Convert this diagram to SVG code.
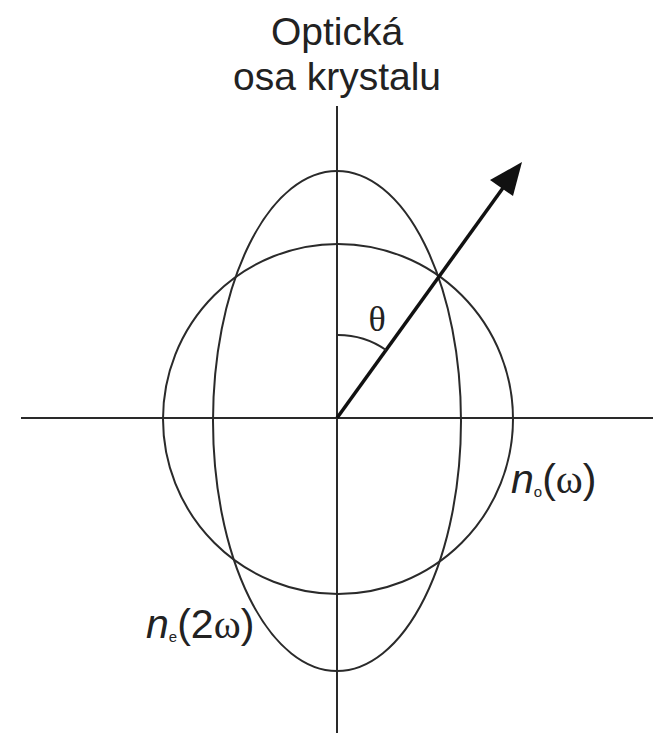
<svg xmlns="http://www.w3.org/2000/svg" width="653" height="733" viewBox="0 0 653 733">
<style>
.ln{fill:none;stroke:#2a2a2a;stroke-width:2}
.sans{font-family:"Liberation Sans",Arial,sans-serif;fill:#222}
.ser{font-family:"Liberation Serif","Times New Roman",serif;fill:#222}
</style>
<rect width="653" height="733" fill="#fff"/>
<g id="title">
<text class="sans" x="337" y="45" font-size="39" text-anchor="middle">Optická</text>
<text class="sans" x="337" y="90" font-size="39" text-anchor="middle">osa krystalu</text>
</g>
<g id="axes">
<line class="ln" x1="337" y1="106" x2="337" y2="733"/>
<line class="ln" x1="21" y1="418" x2="653" y2="418"/>
</g>
<g id="circle-no">
<circle class="ln" cx="338" cy="419" r="175"/>
</g>
<g id="ellipse-ne">
<ellipse class="ln" cx="337" cy="421" rx="124" ry="250"/>
</g>
<g id="connectors">
<line x1="337" y1="418" x2="508" y2="181" stroke="#111" stroke-width="3.5"/>
<path d="M522,162 L513,196 L490,180 z" fill="#111"/>
<path class="ln" d="M337,335 A84,84 0 0 1 386,350"/>
</g>
<g id="theta">
<text class="ser" x="377" y="331" font-size="36" text-anchor="middle">θ</text>
</g>
<g id="label-no">
<text class="sans" x="511" y="493" font-size="41"><tspan font-style="italic">n</tspan><tspan font-size="15" dy="4">o</tspan><tspan dy="-4">(</tspan><tspan font-family="Liberation Serif,serif">ω</tspan>)</text>
</g>
<g id="label-ne">
<text class="sans" x="146" y="638" font-size="41"><tspan font-style="italic">n</tspan><tspan font-size="15" dy="4">e</tspan><tspan dy="-4">(2</tspan><tspan font-family="Liberation Serif,serif">ω</tspan>)</text>
</g>
</svg>
